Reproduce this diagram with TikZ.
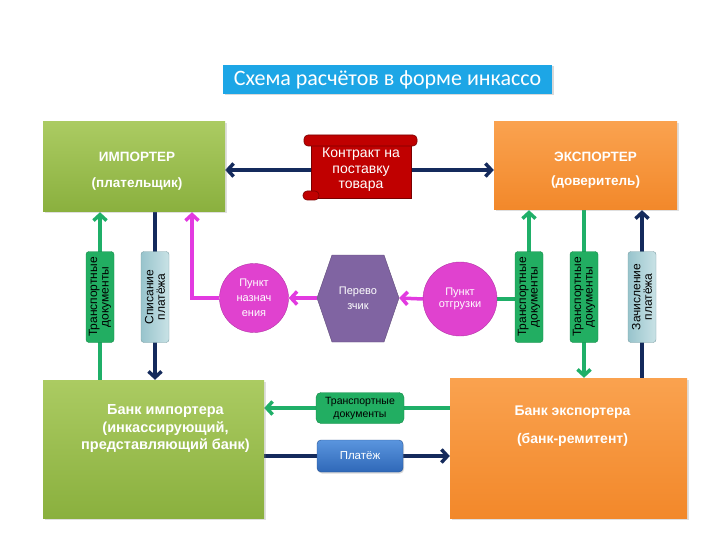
\documentclass[tikz,border=0pt]{standalone}
\usepackage{fontspec}
\setmainfont{Liberation Sans}
\newfontfamily\titlefont{Carlito}
\usetikzlibrary{arrows.meta,shadows,calc}
\pgfdeclarelayer{bg}
\pgfsetlayers{bg,main}
\definecolor{impgreen}{HTML}{9BBB59}
\definecolor{impgreenT}{HTML}{ABCB62}
\definecolor{impgreenB}{HTML}{8AB03E}
\definecolor{exporange}{HTML}{F79646}
\definecolor{exporangeT}{HTML}{FAA24F}
\definecolor{exporangeB}{HTML}{F2882A}
\definecolor{titleblue}{HTML}{1DA6E6}
\definecolor{scrollred}{HTML}{C00000}
\definecolor{scrolldark}{HTML}{7A0000}
\definecolor{docgreen}{HTML}{22AE62}
\definecolor{docgreenD}{HTML}{158A48}
\definecolor{linegreen}{HTML}{1FAF68}
\definecolor{navy}{HTML}{142A5C}
\definecolor{magentaL}{HTML}{E23AE0}
\definecolor{circmag}{HTML}{E042CF}
\definecolor{hexpurple}{HTML}{8064A2}
\definecolor{barblueT}{HTML}{C9E2E6}
\definecolor{barblueB}{HTML}{98C4CC}
\definecolor{payblueT}{HTML}{5A95DE}
\definecolor{payblueB}{HTML}{2F68B8}
\begin{document}
\begin{tikzpicture}[x=1pt,y=-1pt,
  bigbox/.style={inner sep=0pt,
     drop shadow={shadow xshift=1.5pt,shadow yshift=-1.5pt,opacity=0.25}},
  boxtext/.style={text=white, align=center, inner sep=0pt},
  impfill/.style={top color=impgreenT, bottom color=impgreenB},
  expfill/.style={top color=exporangeT, bottom color=exporangeB},
  bartext/.style={rotate=90, inner sep=0pt, align=center, minimum width=91pt, minimum height=28pt,
     rounded corners=3pt, font=\fontsize{12}{11.5}\selectfont, text=black},
  greenbar/.style={bartext, fill=docgreen, draw=docgreenD, line width=0.4pt},
  bluebar/.style={bartext, top color=barblueB, bottom color=barblueT, draw=barblueB!80!black, line width=0.4pt, shading angle=90},
  circ/.style={circle, fill=circmag, draw=circmag!80!black, line width=0.4pt, text=white, align=center,
     inner sep=0pt, font=\fontsize{11}{15}\selectfont},
  tip/.style={-{Straight Barb[length=6pt,width=13pt]}},
  gline/.style={draw=linegreen, line width=3.5pt},
  nline/.style={draw=navy, line width=3.5pt},
  mline/.style={draw=magentaL, line width=3.5pt}
]
\useasboundingbox (0,0) rectangle (720,540);

% title
\node[fill=titleblue, minimum width=329pt, minimum height=29pt, inner sep=0pt, text=white,
  font=\titlefont\fontsize{22}{24}\selectfont,
  drop shadow={shadow xshift=1.5pt,shadow yshift=-1.5pt,opacity=0.3}] (title) at (387.5,79.5)
  {Схема расчётов в форме инкассо};

% main boxes
\node[bigbox, impfill, minimum width=182pt, minimum height=90pt] (imp) at (134,167) {};
\node[boxtext, font=\bfseries\fontsize{13.5}{26}\selectfont] (imptext) at ($(imp.center)+(3,4)$)
  {ИМПОРТЕР\\(плательщик)};
\node[bigbox, expfill, minimum width=183pt, minimum height=88pt] (exp) at (585.5,166) {};
\node[boxtext, font=\bfseries\fontsize{13.5}{24}\selectfont] (exptext) at ($(exp.center)+(10,4)$)
  {ЭКСПОРТЕР\\(доверитель)};
\node[bigbox, impfill, minimum width=221pt, minimum height=138pt] (bimp) at (153.5,449) {};
\node[boxtext, font=\bfseries\fontsize{14.5}{17.5}\selectfont] (bimptext) at ($(bimp.center)+(12,-20)$)
  {Банк импортера\\(инкассирующий,\\представляющий банк)};
\node[bigbox, expfill, minimum width=237pt, minimum height=140pt] (bexp) at (568.5,448) {};
\node[boxtext, font=\bfseries\fontsize{14}{28}\selectfont] (bexptext) at ($(bexp.center)+(4,-22)$)
  {Банк экспортера\\(банк-ремитент)};

% contract scroll
\fill[scrollred, draw=scrolldark, line width=0.6pt] (311,140) rectangle (411,198);
\fill[scrollred, draw=scrolldark, line width=0.6pt, rounded corners=4pt] (304,135) rectangle (417,146);
\fill[scrollred, draw=scrolldark, line width=0.6pt, rounded corners=4pt] (303,191) rectangle (319,200);
\node[inner sep=0pt, minimum width=100pt, minimum height=58pt, text=white, align=center,
  font=\fontsize{14}{15.5}\selectfont] (contract) at (361,170)
  {Контракт на\\поставку\\товара};

% bars
\node[greenbar] (trL) at (100,297) {Транспортные\\документы};
\node[bluebar] (spis) at (155,297) {Списание\\платёжа};
\node[greenbar] (trR1) at (529,297) {Транспортные\\документы};
\node[greenbar] (trR2) at (584,297) {Транспортные\\документы};
\node[bluebar] (zach) at (642,297) {Зачисление\\платёжа};

% circles and hexagon
\node[circ, minimum size=69pt] (nazn) at (254,298) {Пункт\\назнач\\ения};
\fill[hexpurple, draw=hexpurple!75!black, line width=0.4pt]
  (317,298) -- (332,255) -- (384,255) -- (399,298) -- (384,342) -- (332,342) -- cycle;
\node[inner sep=0pt, minimum width=82pt, minimum height=87pt, text=white, align=center,
  font=\fontsize{11}{15}\selectfont] (hex) at (358,298) {Перево\\зчик};
\node[circ, minimum size=74pt, font=\fontsize{11}{11.5}\selectfont] (otgr) at (460,299) {Пункт\\отгрузки};
\coordinate (mcorner) at (192,298);

% bottom middle labels
\node[fill=docgreen, draw=docgreenD, line width=0.4pt, rounded corners=5pt, minimum width=88pt, minimum height=31pt,
  inner sep=0pt, align=center, font=\fontsize{10.5}{13}\selectfont] (trB) at (360,408) {Транспортные\\документы};
\node[top color=payblueT, bottom color=payblueB, draw=payblueB!80!black, line width=0.4pt, rounded corners=4pt,
  minimum width=86pt, minimum height=32pt, inner sep=0pt, text=white, font=\fontsize{11.5}{12}\selectfont,
  drop shadow={shadow xshift=1pt,shadow yshift=-1.5pt,opacity=0.3}] (plat) at (360,456) {Платёж};

% connectors
\begin{pgfonlayer}{bg}
\draw[nline, tip] (contract.west) -- (contract.west -| imp.east);
\draw[nline, tip] (contract.east) -- (contract.east -| exp.west);
\draw[gline, tip] (trL |- bimp.north) -- (trL |- imp.south);
\draw[nline, tip] (spis |- imp.south) -- (spis |- bimp.north);
\draw[mline, tip] (nazn.west) -- (mcorner) -- (mcorner |- imp.south);
\draw[mline, tip] (hex.west) -- (nazn.east);
\draw[mline, tip] (otgr.west) -- (hex.east);
\draw[gline, tip] (otgr.east) -| (trR1 |- exp.south);
\draw[gline, tip] (trR2 |- exp.south) -- (trR2 |- bexp.north);
\draw[nline, tip] (zach |- bexp.north) -- (zach |- exp.south);
\draw[gline, tip] (trB -| bexp.west) -- (trB -| bimp.east);
\draw[nline, tip] (plat -| bimp.east) -- (plat -| bexp.west);
\end{pgfonlayer}
\end{tikzpicture}
\end{document}
